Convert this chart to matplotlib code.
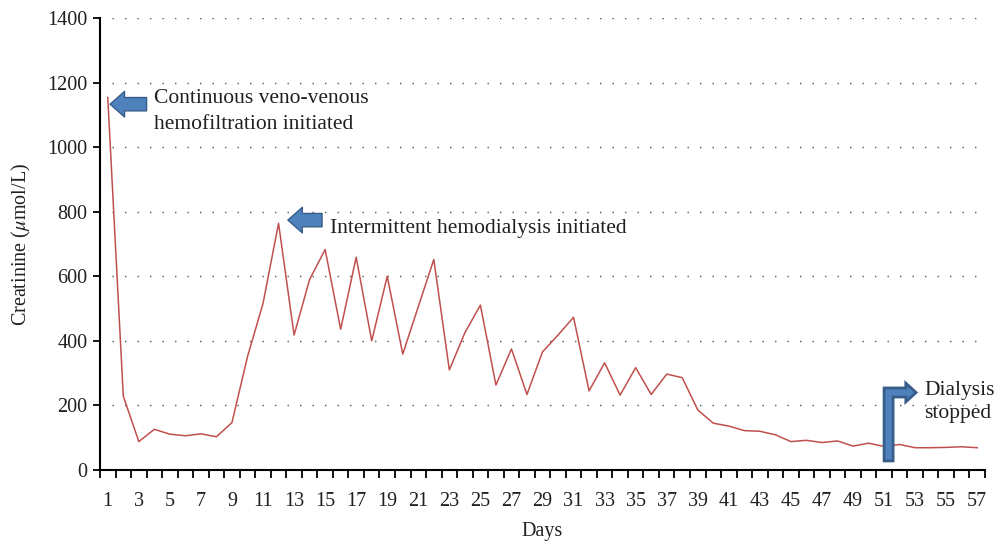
import matplotlib
matplotlib.use('Agg')
import matplotlib.pyplot as plt
from matplotlib.patches import Polygon
import numpy as np

plt.rcParams['font.family'] = ['Liberation Serif', 'DejaVu Serif']
plt.rcParams['mathtext.fontset'] = 'stix'

days = np.arange(1, 58)
creatinine = [1154, 229, 88, 126, 111, 106, 112, 103, 147, 351,
              516, 764, 418, 590, 683, 436, 659, 400, 600, 359,
              506, 652, 310, 425, 511, 263, 375, 234, 366, 418,
              473, 245, 332, 232, 317, 234, 297, 286, 186, 145,
              136, 122, 120, 109, 88, 92, 85, 90, 74, 83,
              73, 79, 69, 69, 70, 72, 69]
y_ticks = [0, 200, 400, 600, 800, 1000, 1200, 1400]
x_labels = days[::2]

blue = '#4f81bd'
blue_edge = '#385d8a'
txt = '#231f20'

fig = plt.figure(figsize=(9.95, 5.43), dpi=100)
ax = fig.add_axes([100/995, 1-470/543, 885/995, 452/543])

ax.plot(days, creatinine, color='#c0504d', lw=1.1, zorder=3)

ax.set_xlim(0.5, 57.5)
ax.set_ylim(0, 1400)
ax.set_yticks(y_ticks)
ax.set_xticks(x_labels)
ax.set_xticks(np.arange(0.5, 58, 1), minor=True)
ax.tick_params(axis='x', which='major', length=0, pad=16, labelsize=14.5, labelcolor=txt)
ax.tick_params(axis='x', which='minor', length=6, width=1.3, direction='out')
ax.tick_params(axis='y', length=5, width=1.3, direction='out', labelsize=14.5,
               pad=4, labelcolor=txt)

for s in ['top', 'right']:
    ax.spines[s].set_visible(False)
for s in ['left', 'bottom']:
    ax.spines[s].set_linewidth(1.5)

for v in y_ticks[1:]:
    ax.axhline(v, xmin=0.013, color='#555555', lw=1, ls=(0, (1, 8)), zorder=1)

ax.set_xlabel('Days', fontsize=14.5, labelpad=8, color=txt)
ax.set_ylabel('Creatinine ($\\mu$mol/L)', fontsize=14.5, labelpad=10, color=txt)

arrow_props = dict(arrowstyle='simple,tail_width=0.6,head_width=1.15,head_length=0.65',
                   mutation_scale=16, fc=blue, ec=blue_edge, lw=1, shrinkA=0, shrinkB=0)

# CVVH arrow + text
ax.annotate('', xy=(1.15, 1133), xytext=(3.5, 1133), arrowprops=arrow_props)
ax.text(3.95, 1109, 'Continuous veno-venous\nhemofiltration initiated',
        fontsize=15.5, va='center', ha='left', linespacing=1.5, color=txt)

# IHD arrow + text
ax.annotate('', xy=(12.6, 774), xytext=(14.8, 774), arrowprops=arrow_props)
ax.text(15.3, 748, 'Intermittent hemodialysis initiated',
        fontsize=15.5, va='center', ha='left', color=txt)

# bent arrow for dialysis stopped
bent = [(51.0, 28), (51.0, 254), (52.4, 254), (52.4, 269), (53.06, 240),
        (52.4, 211), (52.4, 226), (51.58, 226), (51.58, 28)]
ax.add_patch(Polygon(bent, closed=True, fc=blue, ec=blue_edge, lw=2, zorder=4))
ax.text(53.6, 211, 'Dialysis\nstopped', fontsize=15.5, va='center', ha='left',
        linespacing=1.3, color=txt)

fig.savefig('out.png', dpi=100)
